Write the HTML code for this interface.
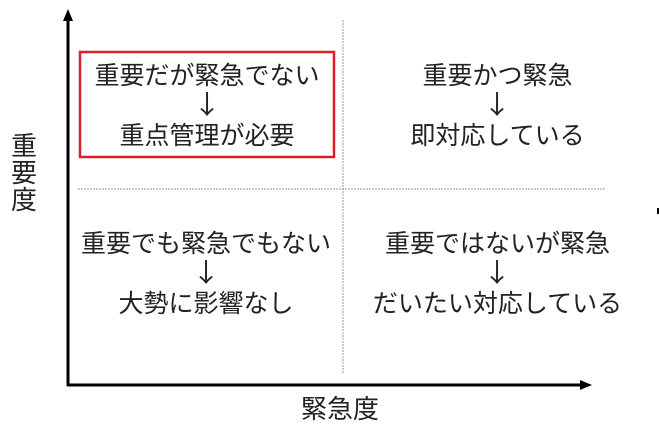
<!DOCTYPE html>
<html><head><meta charset="utf-8"><style>
body{margin:0;width:659px;height:425px;background:#fff;overflow:hidden;position:relative;font-family:"Noto Sans CJK JP",sans-serif;color:#222}
.t{position:absolute;text-align:center;font-size:25px;line-height:30px;white-space:nowrap}
.a{font-family:"Noto Sans CJK JP",sans-serif;font-size:26px;display:inline-block;transform:scaleX(1.1)}
</style></head><body>
<svg width="659" height="425" style="position:absolute;left:0;top:0">
<line x1="343" y1="20" x2="343" y2="373" stroke="#999" stroke-width="1" stroke-dasharray="2,1"/>
<line x1="78" y1="189" x2="605" y2="189" stroke="#999" stroke-width="1" stroke-dasharray="2,1"/>
<rect x="80" y="52" width="254" height="105" fill="none" stroke="#d9202a" stroke-width="2.5"/>
<line x1="68" y1="20" x2="68" y2="386" stroke="#000" stroke-width="3"/>
<polygon points="68,9 63,21 73,21" fill="#000"/>
<line x1="67" y1="385" x2="582" y2="385" stroke="#000" stroke-width="3"/>
<polygon points="592,385 580,380 580,390" fill="#000"/>
<rect x="657" y="208" width="2" height="6" fill="#000"/>
</svg>
<div class="t" style="left:80px;width:254px;top:59px">重要だが緊急でない<br><span class="a">↓</span><br>重点管理が必要</div>
<div class="t" style="left:360px;width:275px;top:59px">重要かつ緊急<br><span class="a">↓</span><br>即対応している</div>
<div class="t" style="left:70px;width:272px;top:227px">重要でも緊急でもない<br><span class="a">↓</span><br>大勢に影響なし</div>
<div class="t" style="left:360px;width:275px;top:227px">重要ではないが緊急<br><span class="a">↓</span><br>だいたい対応している</div>
<div class="t" style="left:9px;width:30px;top:131px;line-height:27px;font-size:26px">重<br>要<br>度</div>
<div class="t" style="left:280px;width:120px;top:393px;font-size:26px">緊急度</div>
</body></html>
